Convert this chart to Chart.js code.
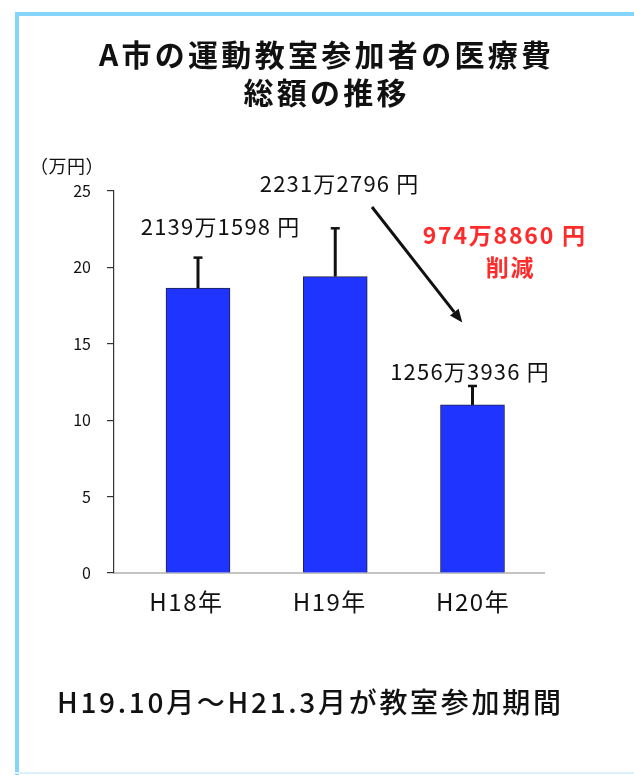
<!DOCTYPE html>
<html>
<head>
<meta charset="utf-8">
<script src="https://cdn.jsdelivr.net/npm/chart.js@4/dist/chart.umd.min.js"></script>
<style>
  html, body { margin: 0; padding: 0; background: #ffffff; }
  #wrap { position: relative; width: 634px; height: 775px; }
  canvas { display: block; }
</style>
</head>
<body>
<div id="wrap"><canvas id="c" width="634" height="775"></canvas></div>
<script>
// ---- data ----
const categories = ['H18年', 'H19年', 'H20年'];
const barValues = [18.65, 19.4, 11.0];
const errorTops = [20.64, 22.56, 12.24];
const valueLabels = ['2139万1598 円', '2231万2796 円', '1256万3936 円'];
const yTicks = [0, 5, 10, 15, 20, 25];
const titleLines = ['A市の運動教室参加者の医療費', '総額の推移'];
const unitLabel = '（万円）';
const reductionLines = ['974万8860 円', '削減'];
const footnote = 'H19.10月～H21.3月が教室参加期間';

// ---- annotation placement (category index / value units) ----
const valueLabelPos = [[0.24, 22.65], [1.07, 25.5], [1.98, 13.15]];
const reductionPos = [[2.22, 22.1], [2.26, 20.0]];
const arrowPos = [[1.30, 23.95], [1.93, 16.4]];

const FONT = '"Noto Sans CJK JP", "Noto Sans", sans-serif';

function drawText(ctx, str, x, y, size, weight, color, spacing, align) {
  ctx.save();
  ctx.font = weight + ' ' + size + 'px ' + FONT;
  ctx.fillStyle = color;
  ctx.textBaseline = 'middle';
  ctx.letterSpacing = spacing + 'px';
  let w = ctx.measureText(str).width;
  let sx = x;
  if (align === 'center') sx = x - w / 2 + spacing / 2;
  else if (align === 'right') sx = x - w;
  ctx.textAlign = 'left';
  ctx.fillText(str, sx, y);
  ctx.restore();
}

const decorPlugin = {
  id: 'decor',
  beforeDraw(chart) {
    const ctx = chart.ctx;
    ctx.save();
    ctx.fillStyle = '#84d4fb';
    ctx.fillRect(15, 12, 4, 763);
    ctx.fillRect(15, 12, 619, 4);
    ctx.fillStyle = '#dcf2fd';
    ctx.fillRect(15, 772, 619, 2);
    ctx.restore();
    drawText(ctx, titleLines[0], 325, 55, 30, 'bold', '#111', 3.3, 'center');
    drawText(ctx, titleLines[1], 325, 93, 30, 'bold', '#111', 3.3, 'center');
    drawText(ctx, unitLabel, 30, 166, 18, 'normal', '#111', 0.5, 'left');
    drawText(ctx, footnote, 57, 702, 28, '500', '#111', 2.7, 'left');
  },
  afterDatasetsDraw(chart) {
    const ctx = chart.ctx;
    const xs = chart.scales.x, ys = chart.scales.y;
    const meta = chart.getDatasetMeta(0);
    ctx.save();
    ctx.strokeStyle = '#111';
    ctx.lineCap = 'butt';
    meta.data.forEach((bar, i) => {
      const yt = ys.getPixelForValue(errorTops[i]);
      ctx.lineWidth = 3;
      ctx.beginPath();
      ctx.moveTo(bar.x, bar.y);
      ctx.lineTo(bar.x, yt);
      ctx.stroke();
      ctx.lineWidth = 2.5;
      ctx.beginPath();
      ctx.moveTo(bar.x - 4.5, yt);
      ctx.lineTo(bar.x + 4.5, yt);
      ctx.stroke();
    });
    ctx.restore();
    const px = (p) => [xs.getPixelForValue(p[0]), ys.getPixelForValue(p[1])];
    categories.forEach((c, i) => {
      drawText(ctx, c, xs.getPixelForTick(i), 602, 24, 'normal', '#111', 1.5, 'center');
    });
    valueLabels.forEach((t, i) => {
      const [x, y] = px(valueLabelPos[i]);
      drawText(ctx, t, x, y, 22, 'normal', '#111', 1.2, 'center');
    });
    reductionLines.forEach((t, i) => {
      const [x, y] = px(reductionPos[i]);
      drawText(ctx, t, x, y, 23, 'bold', '#ff2b2b', 1.8, 'center');
    });
    const [x1, y1] = px(arrowPos[0]);
    const [x2, y2] = px(arrowPos[1]);
    const ang = Math.atan2(y2 - y1, x2 - x1);
    const hl = 13, hw = 5.5;
    const bx = x2 - hl * Math.cos(ang), by = y2 - hl * Math.sin(ang);
    ctx.save();
    ctx.strokeStyle = '#111';
    ctx.fillStyle = '#111';
    ctx.lineWidth = 3;
    ctx.beginPath();
    ctx.moveTo(x1, y1);
    ctx.lineTo(bx, by);
    ctx.stroke();
    ctx.beginPath();
    ctx.moveTo(x2, y2);
    ctx.lineTo(bx + hw * Math.sin(ang), by - hw * Math.cos(ang));
    ctx.lineTo(bx - hw * Math.sin(ang), by + hw * Math.cos(ang));
    ctx.closePath();
    ctx.fill();
    ctx.restore();
  }
};

new Chart(document.getElementById('c'), {
  type: 'bar',
  data: {
    labels: categories,
    datasets: [{
      data: barValues.map((v, i) => ({ x: i, y: v })),
      xAxisID: 'xb',
      backgroundColor: '#1f34ff',
      borderColor: '#222244',
      borderWidth: 1,
      barThickness: 64
    }]
  },
  options: {
    responsive: false,
    animation: false,
    devicePixelRatio: 1,
    layout: { padding: { top: 191, right: 90, bottom: 0, left: 0 } },
    plugins: { legend: { display: false }, title: { display: false }, tooltip: { enabled: false } },
    scales: {
      x: {
        type: 'category',
        offset: true,
        grid: { display: false },
        border: { display: true, color: '#c4c4c4', width: 2 },
        ticks: { display: false },
        afterFit: (s) => { s.height = 775 - 573; }
      },
      xb: {
        type: 'linear',
        position: 'bottom',
        display: false,
        offset: false,
        grid: { offset: false },
        min: -0.612,
        max: 2.521
      },
      y: {
        min: 0,
        max: 25,
        afterBuildTicks: (s) => { s.ticks = yTicks.map(v => ({ value: v })); },
        grid: { display: true, drawOnChartArea: false, drawTicks: true, tickLength: 7, color: '#333', lineWidth: 1.2 },
        border: { display: true, color: '#333', width: 1.2 },
        ticks: { color: '#111', font: { family: FONT, size: 16 }, padding: 16 },
        afterFit: (s) => { s.width = 114; }
      }
    }
  },
  plugins: [decorPlugin]
});
</script>
</body>
</html>
